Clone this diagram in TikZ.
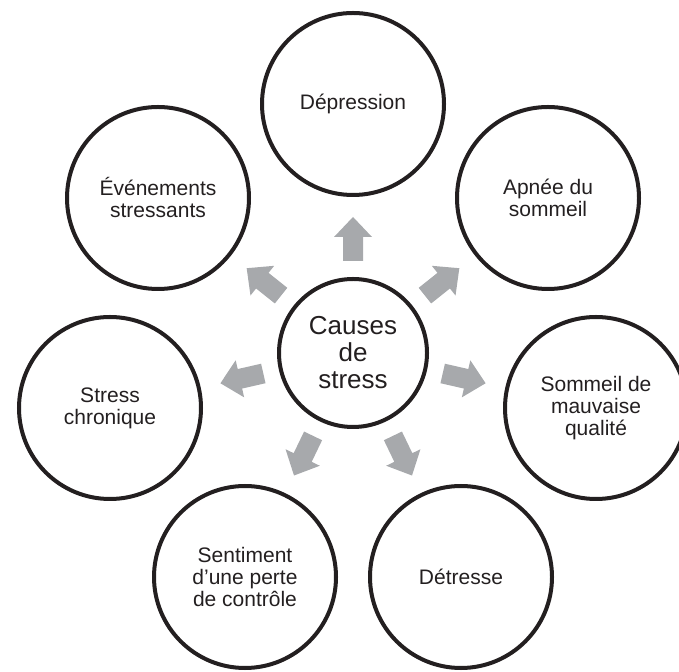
\documentclass[tikz,border=0pt]{standalone}
\usepackage{xcolor}
\usepackage{fontspec}
\setmainfont{Liberation Sans}
\usepackage{tikz}
\definecolor{inkblack}{HTML}{231F20}
\definecolor{arrowgray}{HTML}{A7A9AC}

\begin{document}
\begin{tikzpicture}[x=1pt,y=1pt,
  causecircle/.style={circle,draw=inkblack,line width=4pt,minimum size=148pt,inner sep=0pt,align=center,text=inkblack,font=\fontsize{26}{27}\selectfont},
  effectcircle/.style={circle,draw=inkblack,line width=4pt,minimum size=182pt,inner sep=0pt,align=center,text=inkblack,font=\fontsize{21}{22}\selectfont},
  blockarrow/.style={fill=arrowgray,draw=none}]
\clip (0,0) rectangle (679,671);
%Circles
\draw (353,318) node [causecircle] (causes) {Causes\\de\\stress};
\draw (353,567) node [effectcircle] (depression) {Dépression};
\draw (548,473) node [effectcircle] (apnee) {Apnée du\\sommeil};
\draw (596,263) node [effectcircle] (sommeil) {Sommeil de\\mauvaise\\qualité};
\draw (461,94) node [effectcircle] (detresse) {Détresse};
\draw (245,94) node [effectcircle] (perte) {Sentiment\\d’une perte\\de contrôle};
\draw (110,263) node [effectcircle] (chronique) {Stress\\chronique};
\draw (158,473) node [effectcircle] (evenements) {Événements\\stressants};
%Arrows
\fill [blockarrow,shift={(causes.center)},rotate=90] (92,-10) -- (116,-10) -- (116,-19) -- (136,0) -- (116,19) -- (116,10) -- (92,10) -- cycle;
\fill [blockarrow,shift={(causes.center)},rotate=38.57] (92,-10) -- (116,-10) -- (116,-19) -- (136,0) -- (116,19) -- (116,10) -- (92,10) -- cycle;
\fill [blockarrow,shift={(causes.center)},rotate=-12.86] (92,-10) -- (116,-10) -- (116,-19) -- (136,0) -- (116,19) -- (116,10) -- (92,10) -- cycle;
\fill [blockarrow,shift={(causes.center)},rotate=-64.29] (92,-10) -- (116,-10) -- (116,-19) -- (136,0) -- (116,19) -- (116,10) -- (92,10) -- cycle;
\fill [blockarrow,shift={(causes.center)},rotate=-115.71] (92,-10) -- (116,-10) -- (116,-19) -- (136,0) -- (116,19) -- (116,10) -- (92,10) -- cycle;
\fill [blockarrow,shift={(causes.center)},rotate=-167.14] (92,-10) -- (116,-10) -- (116,-19) -- (136,0) -- (116,19) -- (116,10) -- (92,10) -- cycle;
\fill [blockarrow,shift={(causes.center)},rotate=141.43] (92,-10) -- (116,-10) -- (116,-19) -- (136,0) -- (116,19) -- (116,10) -- (92,10) -- cycle;
\end{tikzpicture}
\end{document}
